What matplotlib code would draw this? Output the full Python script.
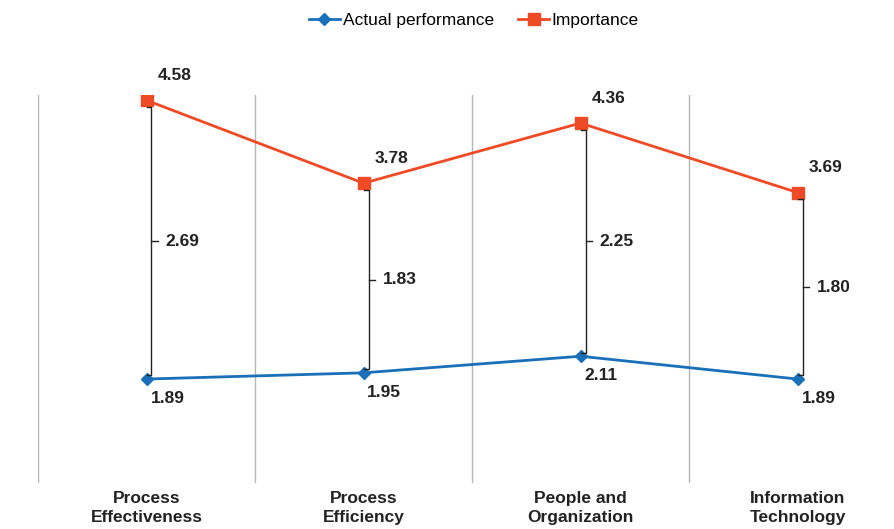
import numpy as np
import matplotlib
matplotlib.use('Agg')
import matplotlib.pyplot as plt

plt.rcParams['font.family'] = ['Liberation Sans', 'DejaVu Sans']

# Data
categories = ['Process\nEffectiveness', 'Process\nEfficiency',
              'People and\nOrganization', 'Information\nTechnology']
actual = [1.89, 1.95, 2.11, 1.89]
importance = [4.58, 3.78, 4.36, 3.69]

blue = '#1a6fb9'
orange = '#ee4a25'
dark = '#222222'

fig = plt.figure(figsize=(8.94, 5.29), dpi=100)
ax = fig.add_axes([0.0425, 0.087, 0.971, 0.733])

x = np.arange(len(categories))
ax.plot(x, actual, color=blue, lw=2, marker='D', ms=6.5, label='Actual performance', zorder=3)
ax.plot(x, importance, color=orange, lw=2, marker='s', ms=8, label='Importance', zorder=3)

# Separators between categories
for xs in np.arange(-0.5, len(categories), 1.0):
    ax.axvline(xs, color='#b5b5b5', lw=1, zorder=0)

# Gap brackets
dx = 0.023
for i, (a, m) in enumerate(zip(actual, importance)):
    top = m - 0.065
    bot = a + 0.035
    mid = (top + bot) / 2
    ax.plot([i + 0.003, i + dx, i + dx, i + 0.003], [top, top, bot, bot],
            color=dark, lw=1, zorder=4)
    ax.plot([i + dx, i + dx + 0.028], [mid, mid], color=dark, lw=1, zorder=2)
    ax.text(i + 0.088, mid, '%.2f' % (m - a), ha='left', va='center',
            fontsize=12.5, fontweight='bold', color=dark)

# Value labels
for i, (a, m) in enumerate(zip(actual, importance)):
    ax.annotate('%.2f' % m, (i, m), xytext=(20, 18), textcoords='offset points',
                ha='center', va='center', fontsize=12.5, fontweight='bold', color=dark,
                annotation_clip=False)
    ax.annotate('%.2f' % a, (i, a), xytext=(15, -14), textcoords='offset points',
                ha='center', va='center', fontsize=12.5, fontweight='bold', color=dark)

ax.set_xlim(-0.5, len(categories) - 0.5)
ax.set_ylim(0.887, 4.629)
ax.set_xticks(x)
ax.set_xticklabels(categories, fontsize=12.5, fontweight='bold', color=dark,
                   linespacing=1.3)
ax.tick_params(axis='x', length=0, pad=6)
ax.set_yticks([])
for s in ax.spines.values():
    s.set_visible(False)

fig.legend(loc='upper center', bbox_to_anchor=(0.53, 1.005), ncol=2, frameon=False,
           fontsize=12.5, handlelength=1.8, handletextpad=0.15, columnspacing=1.4)

plt.savefig('out.png', dpi=100)
plt.close()
